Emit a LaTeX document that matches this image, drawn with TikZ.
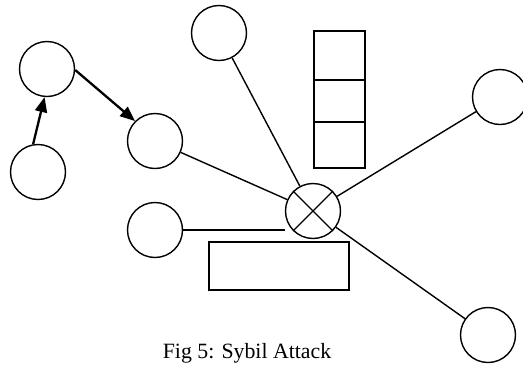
\documentclass[tikz,border=0pt]{standalone}
\usepackage{fontspec}
\setmainfont{Liberation Serif}
\usetikzlibrary{arrows.meta}
\begin{document}
\begin{tikzpicture}[x=1pt,y=-1pt,
  peer/.style={circle,draw,line width=1.4pt,minimum size=55pt,inner sep=0pt},
  link/.style={line width=1.4pt},
  flow/.style={line width=2.3pt,-{Triangle[length=15pt,width=12pt]}},
  box/.style={draw,line width=1.4pt,inner sep=0pt}]
\useasboundingbox (0,0) rectangle (523,365);

% nodes
\node[peer] (a) at (47,69) {};
\node[peer] (b) at (38,172) {};
\node[peer] (c) at (155,141) {};
\node[peer] (d) at (155,230) {};
\node[peer] (e) at (219,33) {};
\node[peer] (x) at (313,211) {};
\node[peer] (f) at (500,97) {};
\node[peer] (g) at (488,335) {};

% cross inside the central node
\draw[link] (x.45) -- (x.225) (x.135) -- (x.-45);

% stacked box
\node[box,minimum width=51pt,minimum height=137pt] (stack) at (339.5,99.5) {};
\draw[link] (stack.west |- 0,80) -- (stack.east |- 0,80);
\draw[link] (stack.west |- 0,122) -- (stack.east |- 0,122);

% wide box
\node[box,minimum width=140pt,minimum height=48pt] (wide) at (279,266) {};

% links to the central node
\draw[link] (c) -- (x);
\draw[link] (e) -- (x);
\draw[link] (d.east) -- (x.west |- d.east);
\draw[link] (x) -- (f);
\draw[link] (x) -- (g);

% directed links
\draw[flow] (b.100) -- (a.265);
\draw[flow] (a.-2) -- (c.135);

% caption
\node[anchor=base,inner sep=0pt,font=\fontsize{21.8}{25}\selectfont] (cap) at (247,358) {Fig 5: Sybil Attack};
\end{tikzpicture}
\end{document}
